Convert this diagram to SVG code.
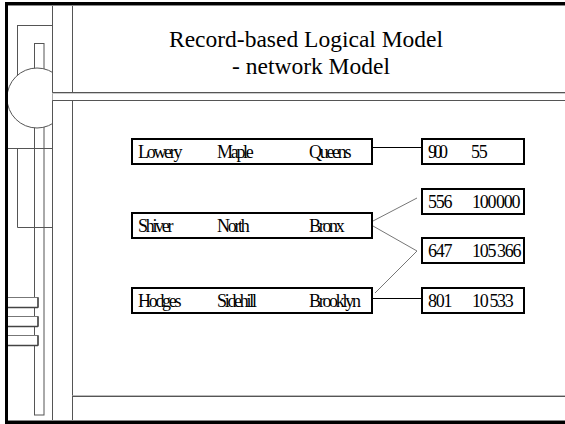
<svg xmlns="http://www.w3.org/2000/svg" width="565" height="424" viewBox="0 0 565 424">
<style>
.frame{stroke:#000;stroke-width:3;fill:none}
.deco{stroke:#555;stroke-width:1;fill:none}
.decof{stroke:#555;stroke-width:1;fill:#fff}
.title{font-family:'Liberation Serif','DejaVu Serif',serif;font-size:23.5px;fill:#000}
.rec{fill:#fff;stroke:#000;stroke-width:2}
.t{font-family:'Liberation Serif','DejaVu Serif',serif;font-size:18px;letter-spacing:-2.3px;fill:#000}
.n{font-family:'Liberation Serif','DejaVu Serif',serif;font-size:18px;letter-spacing:-1.3px;fill:#000}
.blk{stroke:#000;stroke-width:1;fill:none}
.gry{stroke:#777;stroke-width:1;fill:none}
</style>
<defs>
<clipPath id="cl"><rect x="0" y="0" width="52.5" height="424"/></clipPath>
</defs>
<rect width="565" height="424" fill="#fff"/>
<g id="decoration">
<rect class="deco" x="17.5" y="25.5" width="35" height="70"/>
<rect class="deco" x="34.5" y="43.5" width="9.5" height="371.5"/>
<circle class="decof" cx="37" cy="98" r="30" clip-path="url(#cl)"/>
<line class="deco" x1="7" y1="148.5" x2="52" y2="148.5"/>
<polyline class="deco" points="52,227.5 17.5,227.5 17.5,148.5"/>
<line class="deco" x1="52.5" y1="5" x2="52.5" y2="421"/>
<line class="deco" x1="72.5" y1="5" x2="72.5" y2="421"/>
<rect x="52.5" y="92.5" width="513" height="8" fill="#fff"/>
<line x1="52.5" y1="92.5" x2="565" y2="92.5" stroke="#555"/>
<line x1="52.5" y1="93.5" x2="565" y2="93.5" stroke="#ccc"/>
<line x1="52.5" y1="100.5" x2="565" y2="100.5" stroke="#555"/>
<line x1="72.5" y1="395.5" x2="565" y2="395.5" stroke="#bbb"/>
<line x1="72.5" y1="396.5" x2="565" y2="396.5" stroke="#555"/>
<g>
<rect x="7" y="297.5" width="31" height="10" fill="#fff" stroke="#777"/>
<line x1="7" y1="307.5" x2="38" y2="307.5" stroke="#444" stroke-width="1.5"/>
<line x1="38" y1="297.5" x2="38" y2="307.5" stroke="#444" stroke-width="1.5"/>
<rect x="7" y="316.5" width="31" height="10" fill="#fff" stroke="#777"/>
<line x1="7" y1="326.5" x2="38" y2="326.5" stroke="#444" stroke-width="1.5"/>
<line x1="38" y1="316.5" x2="38" y2="326.5" stroke="#444" stroke-width="1.5"/>
<rect x="7" y="335.5" width="31" height="10" fill="#fff" stroke="#777"/>
<line x1="7" y1="345.5" x2="38" y2="345.5" stroke="#444" stroke-width="1.5"/>
<line x1="38" y1="335.5" x2="38" y2="345.5" stroke="#444" stroke-width="1.5"/>
</g>
<line x1="6" y1="5.5" x2="565" y2="5.5" stroke="#888"/>
<line x1="6" y1="420.5" x2="565" y2="420.5" stroke="#888"/>
<polyline class="frame" points="565,3.5 6.5,3.5 6.5,422.5 565,422.5"/>
</g>
<g id="title">
<text class="title" x="169" y="47" font-family="Liberation Serif, serif">Record-based Logical Model</text>
<text class="title" x="232" y="74" font-family="Liberation Serif, serif">- network Model</text>
</g>
<g id="connectors">
<line class="blk" x1="371" y1="147.5" x2="422" y2="147.5"/>
<line class="gry" x1="373" y1="221" x2="417" y2="198"/>
<line class="gry" x1="373" y1="226" x2="417" y2="251"/>
<line class="gry" x1="375" y1="293" x2="417" y2="251"/>
<line class="blk" x1="373" y1="298.5" x2="422" y2="298.5"/>
</g>
<g id="rec-lowery">
<rect class="rec" x="132" y="139" width="240" height="25"/>
<text class="t" x="138" y="158">Lowery</text>
<text class="t" x="217" y="158">Maple</text>
<text class="t" x="309" y="158">Queens</text>
</g>
<g id="rec-shiver">
<rect class="rec" x="132" y="213" width="240" height="25"/>
<text class="t" x="138" y="232">Shiver</text>
<text class="t" x="217" y="232">North</text>
<text class="t" x="309" y="232">Bronx</text>
</g>
<g id="rec-hodges">
<rect class="rec" x="132" y="288" width="240" height="25"/>
<text class="t" x="138" y="307">Hodges</text>
<text class="t" x="217" y="307">Sidehill</text>
<text class="t" x="309" y="307">Brooklyn</text>
</g>
<g id="acct-900">
<rect class="rec" x="422" y="139" width="102" height="25"/>
<text class="n" x="428" y="158" style="letter-spacing:-3.5px">900</text>
<text class="n" x="471" y="158">55</text>
</g>
<g id="acct-556">
<rect class="rec" x="422" y="189" width="102" height="25"/>
<text class="n" x="428" y="208">556</text>
<text class="n" x="472" y="208">100<tspan dx="1">000</tspan></text>
</g>
<g id="acct-647">
<rect class="rec" x="422" y="238" width="102" height="25"/>
<text class="n" x="428" y="257">647</text>
<text class="n" x="472" y="257">105<tspan dx="2">366</tspan></text>
</g>
<g id="acct-801">
<rect class="rec" x="422" y="288" width="102" height="25"/>
<text class="n" x="428" y="307">801</text>
<text class="n" x="472" y="307">10<tspan dx="2">533</tspan></text>
</g>
</svg>
